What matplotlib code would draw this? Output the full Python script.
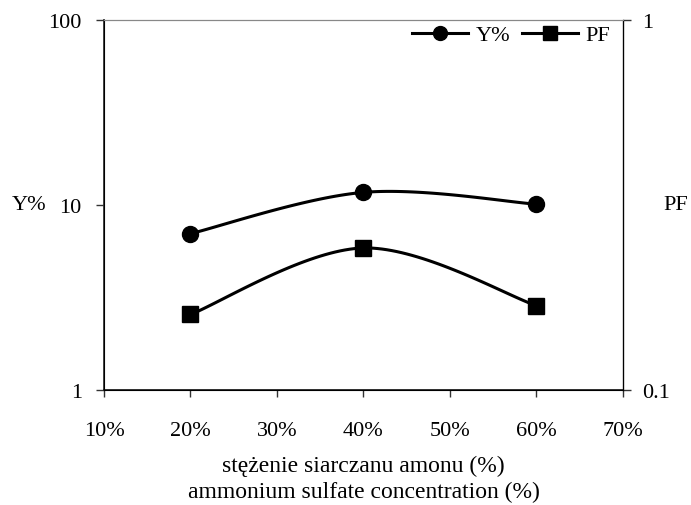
import numpy as np
import matplotlib
matplotlib.use("Agg")
import matplotlib.pyplot as plt
from matplotlib.ticker import FixedLocator, FixedFormatter, NullLocator

plt.rcParams["font.family"] = ["Liberation Serif", "DejaVu Serif"]
plt.rcParams["font.size"] = 16

# data
conc = [0.20, 0.40, 0.60]
y_pct = [7.0, 11.7, 10.1]
pf = [0.160, 0.242, 0.169]

x_ticks = [0.1, 0.2, 0.3, 0.4, 0.5, 0.6, 0.7]
x_labels = ["10%", "20%", "30%", "40%", "50%", "60%", "70%"]


def smooth(xs, ys, xlim, ylim, n=40):
    # Excel style smoothed line (Catmull-Rom bezier) done in axes space
    u = (np.asarray(xs) - xlim[0]) / (xlim[1] - xlim[0])
    v = (np.log10(ys) - np.log10(ylim[0])) / (np.log10(ylim[1]) - np.log10(ylim[0]))
    P = np.column_stack([u, v])
    P = np.vstack([P[0], P, P[-1]])
    out = []
    t = np.linspace(0, 1, n)[:, None]
    for i in range(1, len(P) - 2):
        p0, p1, p2, p3 = P[i - 1], P[i], P[i + 1], P[i + 2]
        b1 = p1 + (p2 - p0) / 6
        b2 = p2 - (p3 - p1) / 6
        seg = (1 - t) ** 3 * p1 + 3 * (1 - t) ** 2 * t * b1 + 3 * (1 - t) * t ** 2 * b2 + t ** 3 * p2
        out.append(seg)
    seg = np.vstack(out)
    sx = xlim[0] + seg[:, 0] * (xlim[1] - xlim[0])
    sy = 10 ** (np.log10(ylim[0]) + seg[:, 1] * (np.log10(ylim[1]) - np.log10(ylim[0])))
    return sx, sy


fig = plt.figure(figsize=(6.91, 5.06), dpi=100)
ax = fig.add_axes([0.1505, 0.2273, 0.751, 0.7312])
ax2 = ax.twinx()

xlim = (0.1, 0.7)
ax.set_xlim(*xlim)
ax.set_yscale("log")
ax.set_ylim(1, 100)
ax2.set_yscale("log")
ax2.set_ylim(0.1, 1)

sx, sy = smooth(conc, y_pct, xlim, (1, 100))
ax.plot(sx, sy, color="black", lw=2.2, solid_capstyle="round")
ax.plot(conc, y_pct, "o", color="black", ms=11.5)
sx, sy = smooth(conc, pf, xlim, (0.1, 1))
ax2.plot(sx, sy, color="black", lw=2.2, solid_capstyle="round")
ax2.plot(conc, pf, "s", color="black", ms=11)

# legend handles
h1, = ax.plot([], [], "-o", color="black", lw=2.2, ms=10)
h2, = ax.plot([], [], "-s", color="black", lw=2.2, ms=10)
ax2.legend([h1, h2], ["Y%", "PF"], loc="upper right", ncol=2, frameon=False,
           handlelength=2.5, columnspacing=0.55, handletextpad=0.35,
           bbox_to_anchor=(1.01, 1.035), fontsize=16, borderpad=0.3)

ax.xaxis.set_major_locator(FixedLocator(x_ticks))
ax.xaxis.set_major_formatter(FixedFormatter(x_labels))
ax.yaxis.set_major_locator(FixedLocator([1, 10, 100]))
ax.yaxis.set_major_formatter(FixedFormatter(["1", "10", "100"]))
ax.yaxis.set_minor_locator(NullLocator())
ax2.yaxis.set_major_locator(FixedLocator([0.1, 1]))
ax2.yaxis.set_major_formatter(FixedFormatter(["0.1", "1"]))
ax2.yaxis.set_minor_locator(NullLocator())

ax.tick_params(axis="y", direction="out", length=6, width=1, color="#333333", labelsize=16, pad=10)
ax2.tick_params(axis="y", direction="out", length=6, width=1, color="#333333", labelsize=16, pad=8)
ax.tick_params(axis="x", direction="out", length=5, width=1, color="#333333", labelsize=16, pad=17)

ax.spines["top"].set_color("#888888")
ax.spines["left"].set_color("#333333")
ax.spines["bottom"].set_color("#222222")
ax.spines["left"].set_linewidth(1.3)
ax.spines["bottom"].set_linewidth(1.3)
ax2.spines["top"].set_color("#888888")
ax2.spines["right"].set_color("black")
ax2.spines["right"].set_linewidth(0.9)

ax.set_ylabel("Y%", rotation=0, fontsize=16, va="center", ha="center")
ax.yaxis.set_label_coords(-0.1445, 0.5)
ax2.set_ylabel("PF", rotation=0, fontsize=16, va="center", ha="center")
ax2.yaxis.set_label_coords(1.102, 0.5)
ax.set_xlabel("stężenie siarczanu amonu (%)\nammonium sulfate concentration (%)",
              fontsize=17, linespacing=1.3, va="top")
ax.xaxis.set_label_coords(0.5, -0.176)

fig.savefig("out.png", dpi=100)
